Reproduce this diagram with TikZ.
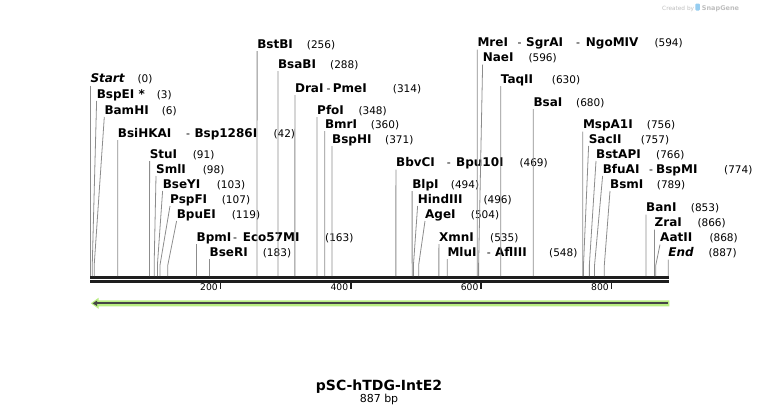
\documentclass[tikz,border=0pt]{standalone}
\usepackage{fontspec}
\setmainfont{DejaVu Sans}
\definecolor{leadgray}{RGB}{140,140,140}
\definecolor{axisblack}{RGB}{30,30,30}
\definecolor{featgreen}{RGB}{185,238,130}
\definecolor{featdark}{RGB}{70,70,70}
\definecolor{logogray}{RGB}{190,190,190}
\definecolor{logoblue}{RGB}{150,205,240}
\tikzset{
  namefont/.style={font=\fontsize{12}{14}\selectfont\bfseries, inner sep=0pt, anchor=base west},
  numfont/.style={font=\fontsize{10.5}{12}\selectfont, inner sep=0pt, anchor=base west},
  hyph/.style={font=\fontsize{11}{12}\selectfont, inner sep=0pt, anchor=base west},
  ticklab/.style={font=\fontsize{9.2}{10}\selectfont, inner sep=0pt, anchor=base east},
  leader/.style={draw=leadgray, line width=0.8pt},
  axisline/.style={draw=axisblack, line width=2.7pt},
  tickmark/.style={draw=axisblack, line width=1.5pt},
}
% #1 id, #2 bp, #3 label x, #4 baseline y, #5 name, #6 number x, #7 number
\newcommand\csite[7]{%
  \node[namefont] (n#1) at (#3,#4) {#5};
  \node[numfont] (c#1) at (#6,#4) {(#7)};
  \coordinate (b#1) at ({90.3+0.6515*#2},265);
  \coordinate (a#1) at ({90.3+0.6515*#2},276);
  \draw[leader] ([yshift=-3pt]n#1.base west) -- (b#1) -- (a#1);
}
\newcommand\extra[4]{% #1 id, #2 x, #3 y, #4 text (bold)
  \node[namefont] (#1) at (#2,#3) {#4};
}
\newcommand\hy[3]{% #1 id, #2 x, #3 y
  \node[hyph] (#1) at (#2,#3) {-};
}
\begin{document}
\begin{tikzpicture}[x=1pt,y=-1pt]
\useasboundingbox (0,0) rectangle (759,415);
% axis
\coordinate (axL1) at (90,277.3);
\coordinate (axR1) at (668.7,277.3);
\coordinate (axL2) at (90,281.4);
\coordinate (axR2) at (668.7,281.4);
\draw[axisline] (axL1) -- (axR1);
\draw[axisline] (axL2) -- (axR2);
% ticks
\foreach \t in {200,400,600,800}{
  \coordinate (tk\t a) at ({90.3+0.6515*\t},282.7);
  \coordinate (tk\t b) at ({90.3+0.6515*\t},288.7);
  \draw[tickmark] (tk\t a) -- (tk\t b);
  \node[ticklab] (tl\t) at ({90.3+0.6515*\t-2.6},290.2) {\t};
}
% feature arrow
\fill[featgreen] (90.8,303.3) -- (98.5,297.8) -- (98.5,300.3) -- (669.3,300.3) -- (669.3,306.3) -- (98.5,306.3) -- (98.5,308.8) -- cycle;
\draw[featdark, line width=2.2pt] (95,303.3) -- (667.6,303.3);
\fill[featdark] (92.6,303.3) -- (97,300.6) -- (97,306) -- cycle;
% sites
\csite{start}{0}{90.3}{82.5}{\textit{Start}}{137.3}{0}
\csite{bspei}{3}{96.6}{98}{BspEI *}{156.7}{3}
\csite{bamhi}{6}{104.3}{114}{BamHI}{161.7}{6}
\csite{bsihkai}{42}{117.7}{137}{BsiHKAI}{273.3}{42}
\hy{hA}{186}{137}\extra{xA}{194.3}{137}{Bsp1286I}
\csite{stui}{91}{149.6}{158}{StuI}{192.7}{91}
\csite{smli}{98}{156.0}{173}{SmlI}{202.7}{98}
\csite{bseyi}{103}{162.6}{188}{BseYI}{216.7}{103}
\csite{pspfi}{107}{170.0}{203}{PspFI}{221.7}{107}
\csite{bpuei}{119}{176.6}{218}{BpuEI}{231.7}{119}
\csite{bpmi}{163}{196.5}{241}{BpmI}{325}{163}
\hy{hB}{233}{241}\extra{xB}{242.7}{241}{Eco57MI}
\csite{bseri}{183}{209.5}{256}{BseRI}{262.7}{183}
\csite{bstbi}{256}{257.1}{48}{BstBI}{306.7}{256}
\csite{bsabi}{288}{277.9}{68}{BsaBI}{330}{288}
\csite{drai}{314}{294.9}{92}{DraI}{392.7}{314}
\hy{hC}{326.5}{92}\extra{xC}{332.7}{92}{PmeI}
\csite{pfoi}{348}{317.0}{114}{PfoI}{358.3}{348}
\csite{bmri}{360}{324.8}{128}{BmrI}{370.7}{360}
\csite{bsphi}{371}{332.0}{143}{BspHI}{385}{371}
\csite{bbvci}{469}{395.9}{166.5}{BbvCI}{519.3}{469}
\hy{hD}{446.7}{166.5}\extra{xD}{456}{166.5}{Bpu10I}
\csite{blpi}{494}{412.1}{188}{BlpI}{450.7}{494}
\csite{hindiii}{496}{417.6}{203}{HindIII}{483.3}{496}
\csite{agei}{504}{425.0}{218}{AgeI}{470.7}{504}
\csite{xmni}{535}{438.9}{241}{XmnI}{490}{535}
\csite{mlui}{548}{447.3}{256}{MluI}{549}{548}
\hy{hE}{486.7}{256}\extra{xE}{495}{256}{AflIII}
\csite{mrei}{594}{477.3}{46.7}{MreI}{654.3}{594}
\hy{hF}{517.3}{46.7}\extra{xF}{526}{46.7}{SgrAI}
\hy{hG}{576}{46.7}\extra{xG}{585.7}{46.7}{NgoMIV}
\csite{naei}{596}{482.6}{61.7}{NaeI}{528.3}{596}
\csite{taqii}{630}{500.7}{83}{TaqII}{551.7}{630}
\csite{bsai}{680}{533.3}{106}{BsaI}{576}{680}
\csite{mspa1i}{756}{582.8}{128.5}{MspA1I}{646.7}{756}
\csite{sacii}{757}{588.6}{143}{SacII}{640.7}{757}
\csite{bstapi}{766}{596.0}{158}{BstAPI}{656}{766}
\csite{bfuai}{774}{602.6}{173}{BfuAI}{724}{774}
\hy{hH}{649}{173}\extra{xH}{656}{173}{BspMI}
\csite{bsmi}{789}{610.0}{188}{BsmI}{656.7}{789}
\csite{bani}{853}{646.0}{211.5}{BanI}{690.7}{853}
\csite{zrai}{866}{654.5}{226.5}{ZraI}{697.3}{866}
\csite{aatii}{868}{660.0}{241.5}{AatII}{709.3}{868}
\csite{end}{887}{668.2}{256.5}{\textit{End}}{708.3}{887}
% title
\node[font=\fontsize{14}{16}\selectfont\bfseries, inner sep=0pt, anchor=base] (title) at (379,390) {pSC-hTDG-IntE2};
\node[font=\fontsize{11}{13}\selectfont, inner sep=0pt, anchor=base] (size) at (379,402.7) {887 bp};
% logo
\node[font=\fontsize{5.8}{7}\selectfont, text=logogray, inner sep=0pt, anchor=base west] (cb) at (662,10) {Created by};
\fill[logoblue, rounded corners=1pt] (695.3,3.5) rectangle (699.8,10.5);
\node[font=\fontsize{6.5}{8}\selectfont\bfseries, text=logogray, inner sep=0pt, anchor=base west] (sg) at (701.7,10) {SnapGene};
\end{tikzpicture}
\end{document}
